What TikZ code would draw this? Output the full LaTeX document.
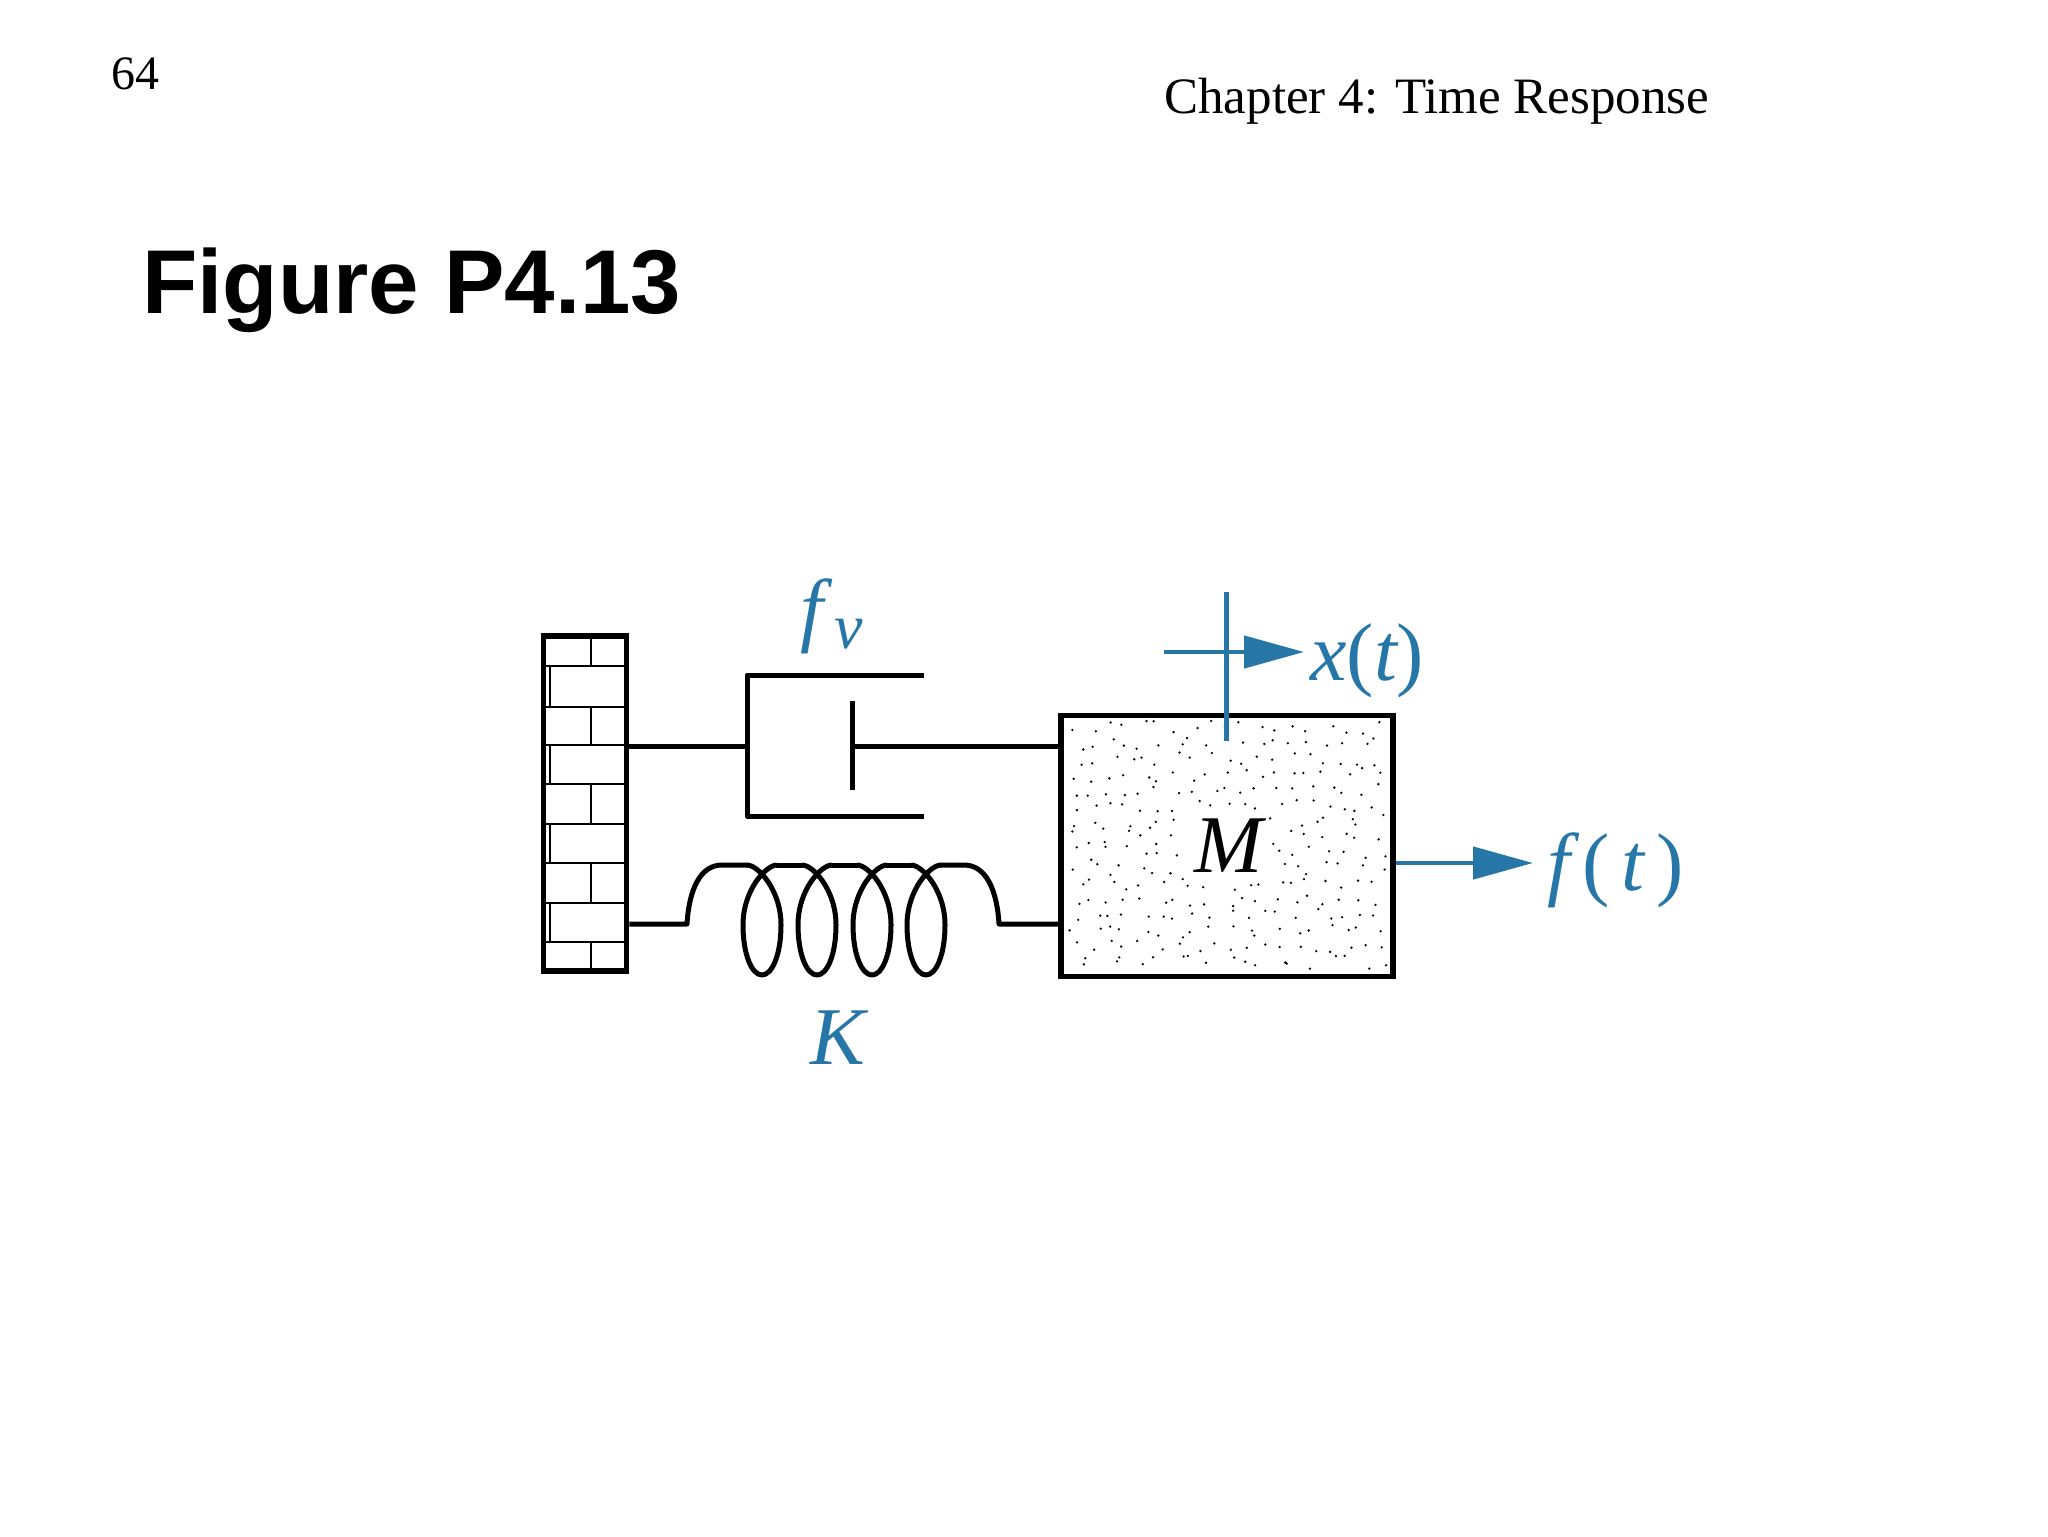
\documentclass[tikz,border=0pt]{standalone}
\usepackage{fontspec}
\setmainfont{Liberation Serif}
\setsansfont{Liberation Sans}
\usetikzlibrary{arrows.meta, calc}
\definecolor{mechblue}{HTML}{2677A8}

\begin{document}
\begin{tikzpicture}[x=0.5pt,y=-0.5pt,>={Triangle[length=30pt,width=16pt]},
    wire/.style={draw=black,line width=2.5pt,line join=round},
    brick/.style={draw=black,line width=1pt},
    block/.style={draw=black,line width=2.8pt,inner sep=0pt},
    signal/.style={draw=mechblue,line width=2.3pt},
    label/.style={anchor=base west,inner sep=0pt,text=mechblue,font=\fontsize{41}{45}\selectfont\itshape},
    header/.style={anchor=base west,inner sep=0pt,font=\fontsize{24}{28}\selectfont}]
    \useasboundingbox (0,0) rectangle (2048,1536);

    \node[header]                                                             (page)    at (111,90)    {64};
    \node[header,font=\fontsize{25.5}{30}\selectfont]                         (chapter) at (1164,113)  {Chapter 4: Time Response};
    \node[anchor=base west,inner sep=0pt,font=\fontsize{45.3}{50}\selectfont\sffamily\bfseries] (title) at (142,313) {Figure P4.13};

    \node[block,minimum width=41.5pt,minimum height=167.5pt]                  (wall)    at (585,803.5) {};
    \node[block,minimum width=166pt,minimum height=130.5pt]                   (mass)    at (1227,846) {};

    % speckle on the mass
    \pgfmathsetseed{41}
    \foreach \i in {0,...,18} {
        \foreach \j in {0,...,15} {
            \pgfmathsetmacro{\dotx}{1076+\i*16.8+8*rand}
            \pgfmathsetmacro{\doty}{728+\j*15.6+7*rand}
            \fill (\dotx,\doty) circle[radius=1.3];
        }
    }
    \node[inner sep=3pt,fill=white,font=\fontsize{41}{45}\selectfont\itshape] (m_lbl) at (1228.5,846) {M};

    % bricks
    \foreach \ly in {666,707,745,784,824,863,903,942}
        \draw[brick] (545,\ly) -- (625,\ly);
    \foreach \ya/\yb in {636/666,707/745,784/824,863/903,942/971}
        \draw[brick] (591,\ya) -- (591,\yb);
    \foreach \ya/\yb in {666/707,745/784,824/863,903/942}
        \draw[brick] (550,\ya) -- (550,\yb);

    % damper
    \coordinate (d_tr) at (924,675);
    \coordinate (d_tl) at (747,675);
    \coordinate (d_bl) at (747,816);
    \coordinate (d_br) at (924,816);
    \coordinate (d_m)  at (747,746);
    \coordinate (p_t)  at (852,701);
    \coordinate (p_b)  at (852,790);
    \coordinate (p_m)  at (852,746);
    \draw[wire] (d_tr) -- (d_tl) -- (d_bl) -- (d_br);
    \draw[wire] (p_t) -- (p_b);
    \draw[wire] (wall.east |- d_m) -- (d_m);
    \draw[wire] (p_m) -- (mass.west |- p_m);

    % spring
    \coordinate (s_l) at (687,924);
    \coordinate (s_r) at (999,924);
    \draw[wire] (wall.east |- s_l) -- (s_l) .. controls (689,890) and (700,865) .. (722,865) -- (748,865);
    \foreach \cx in {762,817,872,926}
        \draw[wire] (\cx-15,865) .. controls (\cx-4,865) and (\cx+19,890) .. (\cx+19,925)
                    .. controls (\cx+19,955) and (\cx+10,975) .. (\cx,975)
                    .. controls (\cx-10,975) and (\cx-19,955) .. (\cx-19,925)
                    .. controls (\cx-19,890) and (\cx+4,865) .. (\cx+15,865);
    \foreach \cx in {776,831,886}
        \draw[wire] (\cx,865) -- (\cx+27,865);
    \draw[wire] (940,865) -- (964,865) .. controls (986,865) and (997,890) .. (s_r) -- (mass.west |- s_r);

    % signals
    \coordinate (x_top) at (1226.5,592);
    \coordinate (x_bot) at (1226.5,741);
    \coordinate (x_s)   at (1164,652);
    \coordinate (x_e)   at (1304,652);
    \coordinate (f_e)   at (1533,863);
    \draw[signal] (x_top) -- (x_bot);
    \draw[signal,->] (x_s) -- (x_e);
    \draw[signal,->] (mass.east |- f_e) -- (f_e);

    \node[label] (fv_lbl) at (800,636)  {f\kern5.5pt\raisebox{-6pt}{\fontsize{32}{34}\selectfont v}};
    \node[label] (k_lbl)  at (810,1064) {K};
    \node[label] (x_lbl)  at (1310,680) {x{\upshape(}t{\upshape)}};
    \node[label] (f_lbl)  at (1547,890) {f\kern6pt{\upshape(}\kern6pt t\kern6pt{\upshape)}};
\end{tikzpicture}
\end{document}
